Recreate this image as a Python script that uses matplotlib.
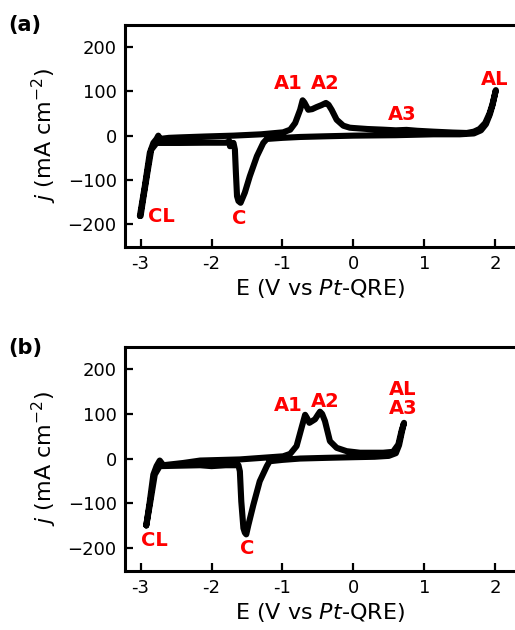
import matplotlib
matplotlib.use("Agg")
import matplotlib.pyplot as plt

# ---------------- data ----------------
# Panel (a): CV loop, potential E (V vs Pt-QRE) and current density j (mA cm^-2)
E_a = [-3.01, -2.94, -2.87, -2.82, -2.775, -2.75, -2.73, -2.60, -2.45, -2.10, -1.69,
       -1.30, -0.99, -0.89, -0.82, -0.75, -0.715, -0.69, -0.635, -0.58, -0.517, -0.45,
       -0.386, -0.35, -0.306, -0.235, -0.141, -0.05, 0.0, 0.20, 0.42, 0.60, 0.75,
       0.90, 1.13, 1.40, 1.60, 1.70, 1.78, 1.86, 1.92, 1.96, 2.01,
       1.965, 1.925, 1.87, 1.80, 1.70, 1.50, 1.13, 0.60, 0.0, -0.40, -0.75, -1.00, -1.22,
       -1.27, -1.36, -1.46, -1.53, -1.59, -1.62, -1.64, -1.656, -1.67, -1.69,
       -1.74, -1.745, -1.80, -2.10, -2.45, -2.775, -2.85, -2.90, -2.96, -3.00]
j_a = [-182, -114, -39, -16.5, -7.5, 0, -7.5, -5, -4, -2, 0,
       3, 7.5, 13.5, 28.6, 58.6, 80, 75, 58.6, 60, 64.7, 69,
       74, 70, 58.6, 36, 22.5, 18, 17.3, 15, 13.5, 12, 13,
       11, 9, 7, 6, 9, 15, 28.6, 50, 70, 103,
       70, 48, 26, 12, 5, 3, 3, 1, 0, -1.5, -3, -5, -7.5,
       -16.5, -46.6, -92, -129, -152, -148, -137, -84, -31.6, -16.5,
       -24, -13, -16, -16, -16.5, -16.5, -32, -80, -140, -182]

# Panel (b)
E_b = [-2.92, -2.87, -2.82, -2.775, -2.73, -2.68, -2.40, -2.16, -1.60, -0.99, -0.89,
       -0.80, -0.73, -0.68, -0.65, -0.62, -0.54, -0.50, -0.47, -0.44, -0.40, -0.33,
       -0.235, -0.094, 0.094, 0.30, 0.42, 0.56, 0.635, 0.68, 0.715,
       0.685, 0.645, 0.60, 0.50, 0.30, 0.0, -0.40, -0.75, -1.00, -1.18,
       -1.22, -1.32, -1.41, -1.48, -1.51, -1.53, -1.55, -1.58, -1.60, -1.62,
       -1.80, -2.00, -2.16, -2.45, -2.73, -2.80, -2.87, -2.92]
j_b = [-150, -96, -36, -17, -4.5, -15, -10, -4.5, -2, 5, 10.5,
       28, 69, 98, 90, 80, 88, 98, 105, 100, 84, 39,
       24, 16.5, 13, 13, 13, 15, 31.6, 62, 80,
       60, 30, 12, 6, 4, 3, 1.5, 0, -3, -6,
       -17, -51, -104, -149, -170, -166, -156, -96, -28.6, -15,
       -15, -17, -15, -16, -17, -36, -104, -150]

# annotations: text, E, j
labels_a = ["A1", "A2", "A3", "AL", "CL", "C"]
labx_a = [-0.92, -0.40, 0.69, 2.0, -2.70, -1.61]
laby_a = [119, 119, 47, 126, -182, -188]

labels_b = ["A1", "A2", "AL\nA3", "CL", "C"]
labx_b = [-0.92, -0.40, 0.70, -2.81, -1.50]
laby_b = [120, 128, 134, -183, -201]

xticks = [-3, -2, -1, 0, 1, 2]
xticklabels = ["-3", "-2", "-1", "0", "1", "2"]
yticks = [-200, -100, 0, 100, 200]
yticklabels = ["\u2212200", "\u2212100", "0", "100", "200"]

# ---------------- figure ----------------
plt.rcParams['font.family'] = ['DejaVu Sans']
plt.rcParams['mathtext.fontset'] = 'dejavusans'

fig = plt.figure(figsize=(5.15, 6.30), dpi=100)
ax_a = fig.add_axes([0.2427, 0.608, 1.0 - 0.2427, 0.352])
ax_b = fig.add_axes([0.2427, 0.0937, 1.0 - 0.2427, 0.3555])

RED = "#ff0000"

def style(ax):
    ax.set_xlim(-3.22, 2.28)
    ax.set_ylim(-252, 250)
    for s in ["left", "top", "bottom"]:
        ax.spines[s].set_linewidth(2.2)
    ax.spines["right"].set_visible(False)
    ax.tick_params(direction="in", length=6, width=1.6, labelsize=13, pad=6,
                   top=False, right=False)
    ax.set_xticks(xticks)
    ax.set_xticklabels(xticklabels)
    ax.set_yticks(yticks)
    ax.set_yticklabels(yticklabels)
    ax.set_xlabel("E (V vs $\\mathit{Pt}$-QRE)", fontsize=16, labelpad=3)
    ax.set_ylabel("$\\mathit{j}$ (mA cm$^{\\mathregular{-2}}$)", fontsize=16, labelpad=6)

for ax, E, j, labs, lx, ly in [(ax_a, E_a, j_a, labels_a, labx_a, laby_a),
                               (ax_b, E_b, j_b, labels_b, labx_b, laby_b)]:
    style(ax)
    ax.plot(E, j, color="black", lw=4.4, solid_joinstyle="round",
            solid_capstyle="round")
    for t, x, y in zip(labs, lx, ly):
        ax.text(x, y, t, color=RED, fontsize=14, fontweight="bold",
                ha="center", va="center", linespacing=1.0)

fig.text(0.049, 0.960, "(a)", fontsize=15, fontweight="bold", ha="center", va="center")
fig.text(0.049, 0.448, "(b)", fontsize=15, fontweight="bold", ha="center", va="center")

fig.savefig("out.png", dpi=100)
